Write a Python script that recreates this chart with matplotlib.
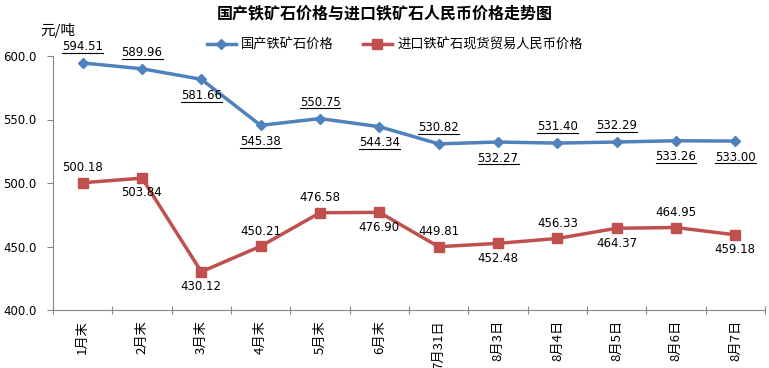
import matplotlib.pyplot as plt
import numpy as np
from matplotlib.lines import Line2D

plt.rcParams['font.family'] = ['DejaVu Sans', 'Noto Sans CJK SC']

# data
categories = ['1月末', '2月末', '3月末', '4月末', '5月末', '6月末',
              '7月31日', '8月3日', '8月4日', '8月5日', '8月6日', '8月7日']
domestic = [594.51, 589.96, 581.66, 545.38, 550.75, 544.34,
            530.82, 532.27, 531.40, 532.29, 533.26, 533.00]
imported = [500.18, 503.84, 430.12, 450.21, 476.58, 476.90,
            449.81, 452.48, 456.33, 464.37, 464.95, 459.18]
# label above (1) or below (-1) the point
dom_pos = [1, 1, -1, -1, 1, -1, 1, -1, 1, 1, -1, -1]
imp_pos = [1, -1, -1, 1, 1, -1, 1, -1, 1, -1, 1, -1]

blue = '#4F81BD'
red = '#C0504D'
cjk = ['Noto Sans CJK SC', 'DejaVu Sans']

fig = plt.figure(figsize=(7.69, 3.68), dpi=100)
ax = fig.add_axes([53 / 769, 58 / 368, 712 / 769, 254 / 368])

x = np.arange(len(categories)) + 0.5
ax.plot(x, domestic, color=blue, lw=2.5, marker='D', ms=5.5, label='国产铁矿石价格')
ax.plot(x, imported, color=red, lw=2.5, marker='s', ms=7.5, label='进口铁矿石现货贸易人民币价格')

dom_labels = []
for xi, v, p in zip(x, domestic, dom_pos):
    t = ax.annotate('%.2f' % v, (xi, v), xytext=(0, 7 * p), textcoords='offset points',
                    ha='center', va='bottom' if p > 0 else 'top', fontsize=8.5)
    dom_labels.append(t)
for xi, v, p in zip(x, imported, imp_pos):
    ax.annotate('%.2f' % v, (xi, v), xytext=(0, 6 * p), textcoords='offset points',
                ha='center', va='bottom' if p > 0 else 'top', fontsize=8.5)

ax.set_xlim(0, len(categories))
ax.set_ylim(400, 600)
ax.set_yticks([400, 450, 500, 550, 600])
ax.set_yticklabels(['%.1f' % t for t in [400, 450, 500, 550, 600]], fontsize=8.5)
ax.set_xticks(np.arange(len(categories) + 1))
ax.set_xticklabels([])
for xi, c in zip(x, categories):
    ax.text(xi, -0.04, c, transform=ax.get_xaxis_transform(), rotation=90, ha='center', va='top',
            fontsize=9.5, family=cjk)
ax.tick_params(axis='x', which='both', direction='inout', length=6, color='#868686')
ax.tick_params(axis='y', direction='out', length=4, color='#868686', pad=8)
for s in ['top', 'right']:
    ax.spines[s].set_visible(False)
for s in ['left', 'bottom']:
    ax.spines[s].set_color('#868686')

fig.text(0.5, 1 - 13 / 368, '国产铁矿石价格与进口铁矿石人民币价格走势图', ha='center', va='center',
         fontsize=11.5, fontweight='bold', family=cjk)
fig.text(40 / 769, 1 - 31 / 368, '元/吨', ha='left', va='center', fontsize=10.5, family=cjk)

leg = ax.legend(loc='upper left', bbox_to_anchor=(195 / 769, 1 - 27 / 368), bbox_transform=fig.transFigure,
                ncol=2, frameon=False, handlelength=2.2, handletextpad=0.4, columnspacing=2.2,
                prop={'family': cjk, 'size': 9.5})

# underline the domestic price labels
fig.canvas.draw()
r = fig.canvas.get_renderer()
for t in dom_labels:
    bb = t.get_window_extent(r)
    fig.add_artist(Line2D([bb.x0, bb.x1], [bb.y0 + 0.5, bb.y0 + 0.5], color='black', lw=0.8, transform=None))

plt.savefig('out.png', dpi=100)
